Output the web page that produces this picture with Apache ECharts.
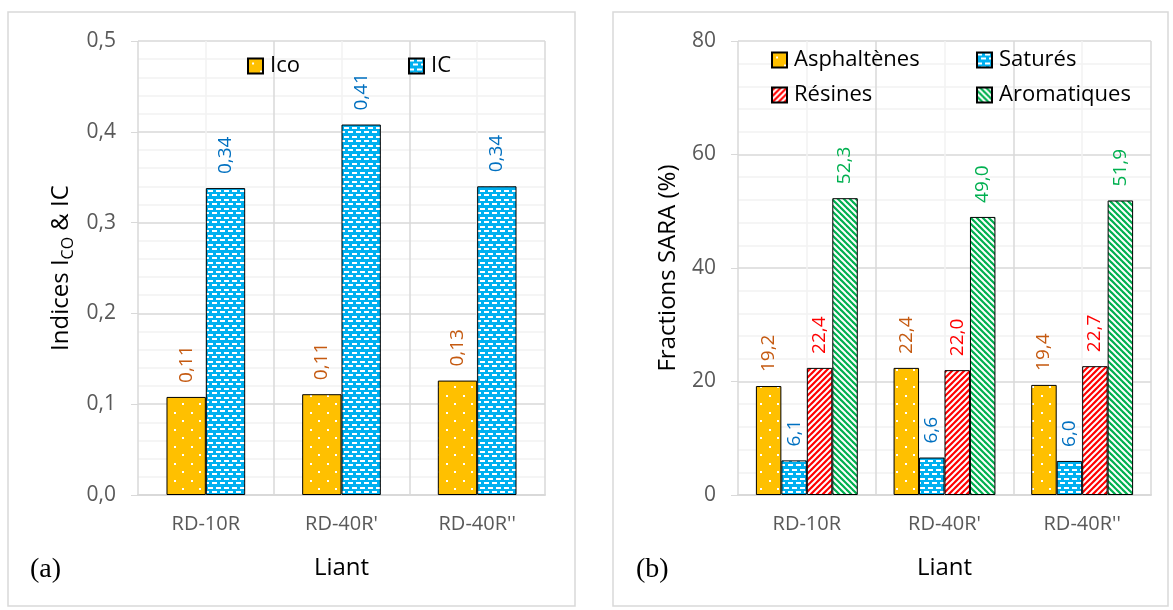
<!DOCTYPE html>
<html>
<head>
<meta charset="utf-8">
<script src="https://cdn.jsdelivr.net/npm/echarts@6/dist/echarts.min.js"></script>
<style>
  html, body { margin: 0; padding: 0; background: #fff; }
  #chart { width: 1173px; height: 610px; }
</style>
</head>
<body>
<div id="chart"></div>
<script>
// data
var liants = ["RD-10R", "RD-40R'", "RD-40R''"];
var icoValues = [0.108, 0.111, 0.126];
var icValues = [0.338, 0.408, 0.340];
var asphValues = [19.2, 22.4, 19.4];
var saturValues = [6.1, 6.6, 6.0];
var resineValues = [22.4, 22.0, 22.7];
var aromValues = [52.3, 49.0, 51.9];
var ticksA = [0, 0.1, 0.2, 0.3, 0.4, 0.5];
var ticksB = [0, 20, 40, 60, 80];

var FONT = "'Open Sans', 'Noto Sans', sans-serif";
var AXIS_GREY = "#595959";
var GRID_MAJOR = "#D9D9D9";
var GRID_MINOR = "#F2F2F2";

/* pattern fills */
function makeTile(w, h, bg, draw) {
  var c = document.createElement("canvas");
  c.width = w;
  c.height = h;
  var ctx = c.getContext("2d");
  ctx.fillStyle = bg;
  ctx.fillRect(0, 0, w, h);
  ctx.fillStyle = "#fff";
  ctx.strokeStyle = "#fff";
  draw(ctx, w, h);
  return { image: c, repeat: "repeat" };
}
var dotFill = makeTile(17, 17, "#FFC000", function (ctx) {
  ctx.fillRect(4, 4, 2, 2);
  ctx.fillRect(12, 12, 2, 2);
});
var dashFill = makeTile(8, 9, "#00B0F0", function (ctx) {
  ctx.fillRect(0, 1, 5, 2);
  ctx.fillRect(4, 5, 5, 2);
  ctx.fillRect(0, 5, 1, 2);
});
function diagFill(bg, up) {
  return makeTile(6, 6, bg, function (ctx, n) {
    ctx.lineWidth = 2;
    var segs = up
      ? [[0, n, n, 0], [-n / 2, n / 2, n / 2, -n / 2], [n / 2, n * 1.5, n * 1.5, n / 2]]
      : [[0, 0, n, n], [-n / 2, n / 2, n / 2, n * 1.5], [n / 2, -n / 2, n * 1.5, n / 2]];
    segs.forEach(function (s) {
      ctx.beginPath();
      ctx.moveTo(s[0], s[1]);
      ctx.lineTo(s[2], s[3]);
      ctx.stroke();
    });
  });
}
var resFill = diagFill("#FF0000", true);
var aromFill = diagFill("#00B050", false);

function comma(v, d) {
  return v.toFixed(d).replace(".", ",");
}

function barSeries(name, data, fill, labelColor, digits, xIdx, yIdx) {
  return {
    name: name,
    type: "bar",
    xAxisIndex: xIdx,
    yAxisIndex: yIdx,
    data: data,
    barGap: "0%",
    barCategoryGap: xIdx === 0 ? "42%" : "26%",
    itemStyle: { color: fill, borderColor: "#000", borderWidth: 1 },
    label: {
      show: true,
      position: "top",
      rotate: 90,
      align: "left",
      verticalAlign: "middle",
      distance: 14,
      color: labelColor,
      fontFamily: FONT,
      fontSize: 19,
      formatter: function (p) { return comma(p.value, digits); },
    },
  };
}

function catAxis(gridIndex, names) {
  return {
    type: "category",
    gridIndex: gridIndex,
    data: names,
    axisLine: { lineStyle: { color: GRID_MAJOR, width: 2 } },
    axisTick: { length: 7, lineStyle: { color: GRID_MAJOR } },
    axisLabel: { color: AXIS_GREY, fontFamily: FONT, fontSize: 20, margin: 19 },
    splitLine: { show: false },
    name: "Liant",
    nameLocation: "middle",
    nameGap: 61,
    nameTextStyle: { color: "#000", fontFamily: FONT, fontSize: 24 },
  };
}

// hidden value axis: vertical grid lines at bounds + centres
function gridXAxis(gridIndex) {
  return {
    type: "value",
    gridIndex: gridIndex,
    min: 0,
    max: 3,
    interval: 1,
    axisLine: { show: false },
    axisTick: { show: false },
    axisLabel: { show: false },
    minorTick: { show: false, splitNumber: 2 },
    splitLine: { show: true, lineStyle: { color: GRID_MAJOR, width: 1.5 } },
    minorSplitLine: { show: true, lineStyle: { color: GRID_MINOR, width: 1.5 } },
  };
}

function valAxis(gridIndex, ticks, digits, name, gap, margin) {
  return {
    type: "value",
    gridIndex: gridIndex,
    min: ticks[0],
    max: ticks[ticks.length - 1],
    interval: ticks[1] - ticks[0],
    axisLine: { show: false },
    axisTick: { show: true, length: 7, lineStyle: { color: GRID_MAJOR } },
    axisLabel: {
      color: AXIS_GREY, fontFamily: FONT, fontSize: 21, margin: margin,
      formatter: function (v) { return comma(v, digits); },
    },
    minorTick: { show: false, splitNumber: 5 },
    splitLine: { show: true, lineStyle: { color: GRID_MAJOR, width: 1.5 } },
    minorSplitLine: { show: true, lineStyle: { color: GRID_MINOR, width: 1.5 } },
    name: name,
    nameLocation: "middle",
    nameGap: gap,
    nameTextStyle: {
      color: "#000", fontFamily: FONT, fontSize: 24,
      rich: {
        a: { fontFamily: FONT, fontSize: 24, color: "#000", lineHeight: 30 },
        s: { fontFamily: FONT, fontSize: 16, color: "#000", lineHeight: 16, verticalAlign: "bottom" },
      },
    },
  };
}

function legendAt(name, left, top) {
  return {
    data: [name],
    left: left,
    top: top,
    icon: "rect",
    itemWidth: 15,
    itemHeight: 15,
    itemGap: 8,
    selectedMode: false,
    textStyle: { color: "#000", fontFamily: FONT, fontSize: 22, padding: [0, 0, 0, 2] },
  };
}

var chart = echarts.init(document.getElementById("chart"));
var option = {
  animation: false,
  backgroundColor: "#fff",
  grid: [
    { left: 138, right: 628, top: 41, bottom: 115 },
    { left: 738, right: 22, top: 41, bottom: 115 },
  ],
  xAxis: [catAxis(0, liants), gridXAxis(0), catAxis(1, liants), gridXAxis(1)],
  yAxis: [
    valAxis(0, ticksA, 1, "{a|Indices I}{s|CO}{a| & IC}", 62, 22),
    valAxis(1, ticksB, 0, "Fractions SARA (%)", 58, 22),
  ],
  legend: [
    legendAt("Ico", 242, 50),
    legendAt("IC", 403, 50),
    legendAt("Asphaltènes", 766, 44),
    legendAt("Saturés", 971, 44),
    legendAt("Résines", 766, 79),
    legendAt("Aromatiques", 971, 79),
  ],
  series: [
    barSeries("Ico", icoValues, dotFill, "#C55A11", 2, 0, 0),
    barSeries("IC", icValues, dashFill, "#0070C0", 2, 0, 0),
    barSeries("Asphaltènes", asphValues, dotFill, "#C55A11", 1, 2, 1),
    barSeries("Saturés", saturValues, dashFill, "#0070C0", 1, 2, 1),
    barSeries("Résines", resineValues, resFill, "#FF0000", 1, 2, 1),
    barSeries("Aromatiques", aromValues, aromFill, "#00B050", 1, 2, 1),
  ],
  graphic: [
    { type: "rect", shape: { x: 8, y: 12, width: 567, height: 594 }, style: { fill: "none", stroke: GRID_MAJOR, lineWidth: 1.5 }, z: -1 },
    { type: "rect", shape: { x: 613, y: 12, width: 555, height: 594 }, style: { fill: "none", stroke: GRID_MAJOR, lineWidth: 1.5 }, z: -1 },
    { type: "text", left: 30, top: 556, style: { text: "(a)", fill: "#000", font: "28px 'Liberation Serif', serif" } },
    { type: "text", left: 636, top: 556, style: { text: "(b)", fill: "#000", font: "28px 'Liberation Serif', serif" } },
  ],
};
chart.setOption(option);
</script>
</body>
</html>
